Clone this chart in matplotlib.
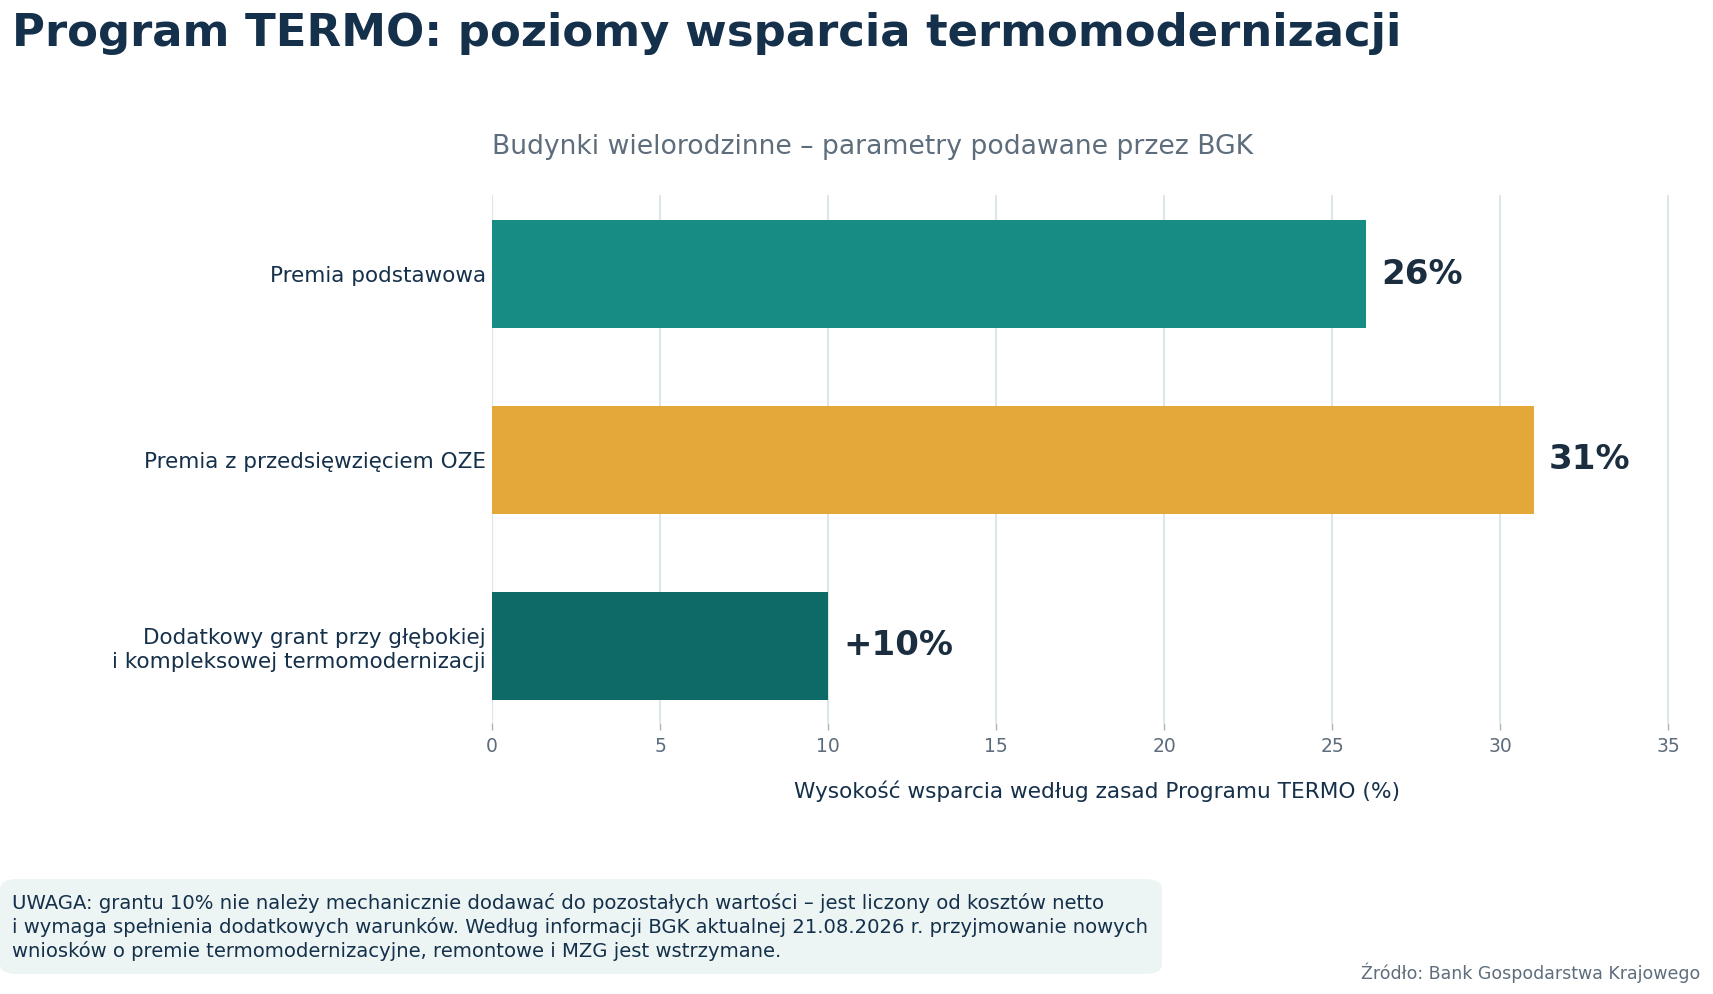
import matplotlib.pyplot as plt
from matplotlib.patches import FancyBboxPatch

# ------------------ Data ------------------
CATEGORIES = [
    "Premia podstawowa",
    "Premia z przedsięwzięciem OZE",
    "Dodatkowy grant przy głębokiej\ni kompleksowej termomodernizacji",
]
VALUES     = [26, 31, 10]
VAL_LABELS = ["26%", "31%", "+10%"]
COLORS     = ["#178c85", "#e4a83a", "#0e6a66"]
XTICKS     = [0, 5, 10, 15, 20, 25, 30, 35]

TITLE    = "Program TERMO: poziomy wsparcia termomodernizacji"
SUBTITLE = "Budynki wielorodzinne – parametry podawane przez BGK"
XLABEL   = "Wysokość wsparcia według zasad Programu TERMO (%)"
NOTE     = ("UWAGA: grantu 10% nie należy mechanicznie dodawać do pozostałych wartości – jest liczony od kosztów netto\n"
            "i wymaga spełnienia dodatkowych warunków. Według informacji BGK aktualnej 21.08.2026 r. przyjmowanie nowych\n"
            "wniosków o premie termomodernizacyjne, remontowe i MZG jest wstrzymane.")
SOURCE   = "Źródło: Bank Gospodarstwa Krajowego"

DARK = "#15304a"
GRAY = "#5d6d7c"

W, H = 1713, 994
fig = plt.figure(figsize=(W / 100, H / 100), dpi=100)
ax = fig.add_axes([492 / W, 1 - 723 / H, (1702 - 492) / W, (723 - 195) / H])

y = list(range(len(CATEGORIES)))
bars = ax.barh(y, VALUES, height=0.58, color=COLORS, zorder=3)
for bar, lab in zip(bars, VAL_LABELS):
    ax.text(bar.get_width() + 0.45, bar.get_y() + bar.get_height() / 2, lab,
            ha="left", va="center", fontsize=24.5, fontweight="bold", color="#1a2e40", zorder=4)

ax.set_xlim(0, 36)
ax.set_ylim(2.415, -0.425)
ax.set_xticks(XTICKS)
ax.set_yticks(y)
ax.set_yticklabels(CATEGORIES, fontsize=15.5, color=DARK, linespacing=1.28)
ax.tick_params(axis="y", length=0, pad=4.5)
ax.tick_params(axis="x", length=5, width=1, color="#a9b5bb", labelsize=13.5, labelcolor=GRAY, pad=5)
for s in ax.spines.values():
    s.set_visible(False)
ax.grid(axis="x", color="#dde6e8", linewidth=1.5, zorder=0)
ax.set_axisbelow(True)
ax.set_xlabel(XLABEL, fontsize=15.6, color=DARK, labelpad=17.5)

fig.text(12 / W, 1 - 46 / H, TITLE, fontsize=32.4, fontweight="bold", color="#14304a",
         ha="left", va="baseline")
fig.text(492 / W, 1 - 154 / H, SUBTITLE, fontsize=19.2, color=GRAY, ha="left", va="baseline")

# ramka z uwagą
box = FancyBboxPatch((0 / W, 1 - 974 / H), 1162 / W, 95 / H,
                     boxstyle="round,pad=0,rounding_size=0.01",
                     transform=fig.transFigure, facecolor="#ecf5f4", edgecolor="none")
fig.patches.append(box)
fig.text(12 / W, 1 - 957 / H, NOTE, fontsize=14.1, color=DARK, ha="left", va="baseline",
         linespacing=1.25)
fig.text(1700 / W, 1 - 979 / H, SOURCE, fontsize=12.55, color=GRAY, ha="right", va="baseline")

fig.savefig("out.png", dpi=100)
